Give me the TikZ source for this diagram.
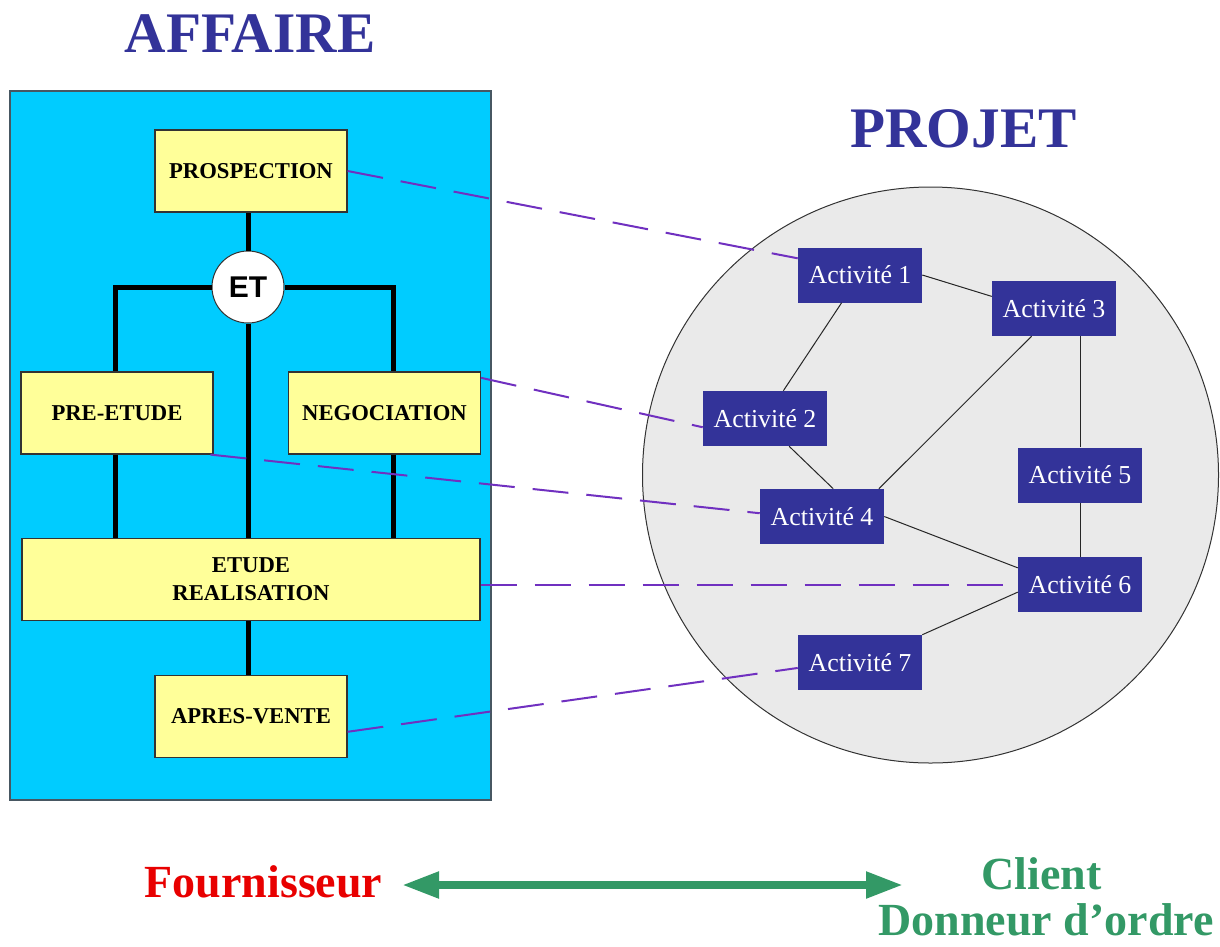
\documentclass[tikz,border=0pt]{standalone}
\usepackage{fontspec}
\setmainfont{Liberation Serif}
\newfontfamily\arialfont{Liberation Sans}
\usetikzlibrary{arrows.meta}

\definecolor{bleu}{HTML}{333399}
\definecolor{ciel}{HTML}{00CCFF}
\definecolor{jaune}{HTML}{FFFF99}
\definecolor{gris}{HTML}{EAEAEA}
\definecolor{mauve}{HTML}{7030C0}
\definecolor{rouge}{HTML}{E80000}
\definecolor{vert}{HTML}{339966}

\begin{document}
\begin{tikzpicture}[x=0.75pt, y=-0.75pt,
	titre/.style={anchor=base, inner sep=0pt, text=bleu, font=\fontsize{43}{50}\selectfont\bfseries},
	boite/.style={draw=black!80, fill=jaune, line width=0.9pt, minimum width=144pt, minimum height=61.5pt, inner sep=0pt, font=\fontsize{17}{21}\selectfont\bfseries},
	activite/.style={fill=bleu, text=white, minimum width=93pt, minimum height=41.25pt, inner sep=0pt, font=\fontsize{19.4}{23}\selectfont},
	trait/.style={line width=3.75pt},
	lien/.style={black!85, line width=0.75pt},
	pointille/.style={mauve, line width=1.5pt, dash pattern=on 27pt off 13.5pt},
	legende/.style={anchor=base, inner sep=0pt, font=\fontsize{34.5}{40}\selectfont\bfseries}]

	\useasboundingbox
		(0,0) rectangle (1220,946);

	\node at (250,52) [titre] (affaire) {AFFAIRE};

	\node at (963.5,147) [titre] (projet) {PROJET};

	\draw
		[draw=black!70!cyan, fill=ciel, line width=1.1pt] (10,91) rectangle (491,800);

	\node at (930.5,475) [circle, draw=black!80, fill=gris, line width=0.75pt, minimum size=432pt, inner sep=0pt] (cercle) {};

	\node at (251,171) [boite] (prosp) {PROSPECTION};

	\node at (248,287) [circle, draw=black!80, fill=white, line width=0.75pt, minimum size=54pt, inner sep=0pt, font={\arialfont\bfseries\fontsize{22.5}{27}\selectfont}] (et) {ET};

	\node at (117,413) [boite] (pre) {PRE-ETUDE};

	\node at (384.5,413) [boite] (nego) {NEGOCIATION};

	\node at (251,579.5) [boite, minimum width=343.5pt, align=center] (etude) {ETUDE\\REALISATION};

	\node at (251,716.5) [boite] (apres) {APRES-VENTE};

	\coordinate (brG) at (115,287);

	\coordinate (brD) at (393,287);

	\draw
		[trait] (et.north) -- (et.north |- prosp.south);

	\draw
		[trait] (et.west) -- (brG) -- (brG |- pre.north);

	\draw
		[trait] (et.east) -- (brD) -- (brD |- nego.north);

	\draw
		[trait] (et.south) -- (et.south |- etude.north);

	\draw
		[trait] (brG |- pre.south) -- (brG |- etude.north);

	\draw
		[trait] (brD |- nego.south) -- (brD |- etude.north);

	\draw
		[trait] (et.south |- etude.south) -- (et.south |- apres.north);

	\foreach \n/\x/\y in {1/860/275, 2/765/418.5, 3/1054/308.5, 4/822/516.5, 5/1080/475, 6/1080/584.5, 7/860/662.5}
		\node at (\x,\y) [activite] (A\n) {Activité \n};

	\foreach \a/\b in {A1/A2, A1.east/A3.169, A2.-49/A4.68, A3.231/A4.26, A4.east/A6.165, A6.187/A7.north east, A5/A6}
		\draw
			[lien] (\a) -- (\b);

	\draw
		[lien] (A5.north) -- (A5.north |- A3.south);

	\draw
		[pointille] (prosp.east) -- (A1.165);

	\draw
		[pointille] (nego.20) -- (A2.188);

	\draw
		[pointille] (pre.-24.5) -- (A4.177);

	\draw
		[pointille] (etude.east |- A6.west) -- (A6.west);

	\draw
		[pointille] (apres.-9) -- (A7.185);

	\node at (263.5,897) [legende, text=rouge] (four) {Fournisseur};

	\node at (1041.5,889) [legende, text=vert] (client) {Client};

	\node at (1046,935) [legende, text=vert] (donneur) {Donneur d’ordre};

	\coordinate (gauche) at (402,885);

	\coordinate (droite) at (903,885);

	\draw
		[vert, line width=6pt, {Triangle[length=27.75pt, width=18.75pt]}-{Triangle[length=27.75pt, width=18.75pt]}] (gauche) -- (droite);
\end{tikzpicture}
\end{document}
